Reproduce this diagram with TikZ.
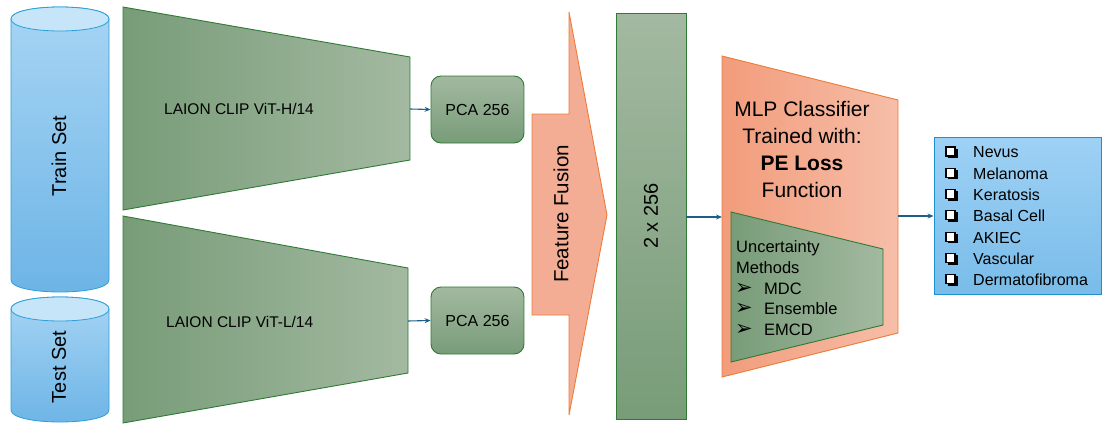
\documentclass[tikz,border=0pt]{standalone}
\usepackage{fontspec}
\setmainfont{Liberation Sans}
\newfontfamily\symf{DejaVu Sans}
\usetikzlibrary{arrows.meta}
\definecolor{cyltop}{HTML}{A8D5F4}
\definecolor{cylbot}{HTML}{6CB4E6}
\definecolor{cylcap}{HTML}{C6E5F8}
\definecolor{cylline}{HTML}{2A9FD8}
\definecolor{grnL}{HTML}{789C78}
\definecolor{grnR}{HTML}{A3B9A1}
\definecolor{grnline}{HTML}{2F7A35}
\definecolor{orL}{HTML}{F29C7B}
\definecolor{orR}{HTML}{F6BEA9}
\definecolor{orline}{HTML}{EE7C3A}
\definecolor{fus}{HTML}{F3AD94}
\definecolor{outT}{HTML}{9ED1F5}
\definecolor{outB}{HTML}{79BCE9}
\definecolor{outline}{HTML}{1E8FCF}
\definecolor{arrc}{HTML}{1D5F8C}
\tikzset{
  cyl/.style={draw=cylline, line width=0.8pt, top color=cyltop, bottom color=cylbot},
  cylcapst/.style={draw=cylline, line width=0.8pt, fill=cylcap},
  trap/.style={draw=grnline, line width=0.9pt, left color=grnL, right color=grnR},
  vgrn/.style={draw=grnline, line width=0.9pt, top color=grnR, bottom color=grnL},
  mlp/.style={draw=orline, line width=0.9pt, left color=orL, right color=orR},
  fusion/.style={draw=orline, line width=0.9pt, fill=fus},
  outbox/.style={draw=outline, line width=0.9pt, top color=outT, bottom color=outB},
  arr/.style={draw=arrc, line width=1.1pt, -{Stealth[length=6pt,width=5pt]}},
  lbl/.style={inner sep=0pt, text=black},
  chk/.style={draw=black, line width=1.1pt, fill=white},
}
\begin{document}
\begin{tikzpicture}[x=1pt,y=-1pt]
\useasboundingbox (0,0) rectangle (1103,423);

% Train cylinder
\path[cyl] (11,19) -- (11,280) .. controls (11,296) and (109,296) .. (109,280) -- (109,19) .. controls (109,3) and (11,3) .. (11,19) -- cycle;
\path[cylcapst] (11,19) .. controls (11,3) and (109,3) .. (109,19) .. controls (109,35) and (11,35) .. (11,19) -- cycle;
\node[lbl, rotate=90, font=\fontsize{20}{24}\selectfont] (train) at (59,156) {Train Set};

% Test cylinder
\path[cyl] (11,309) -- (11,410) .. controls (11,426) and (109,426) .. (109,410) -- (109,309) .. controls (109,293) and (11,293) .. (11,309) -- cycle;
\path[cylcapst] (11,309) .. controls (11,293) and (109,293) .. (109,309) .. controls (109,325) and (11,325) .. (11,309) -- cycle;
\node[lbl, rotate=90, font=\fontsize{20}{24}\selectfont] (test) at (59,367) {Test Set};

% Encoders
\path[trap] (123,7) -- (410,57) -- (410,160) -- (123,210) -- cycle;
\node[lbl, anchor=west, font=\fontsize{15.5}{18}\selectfont] (enc1) at (164,109) {LAION CLIP ViT-H/14};
\path[trap] (123,216) -- (408,268) -- (408,373) -- (123,423) -- cycle;
\node[lbl, anchor=west, font=\fontsize{15.5}{18}\selectfont] (enc2) at (166,322) {LAION CLIP ViT-L/14};
\coordinate (e1r) at (410,109);
\coordinate (e2r) at (408,321);

% PCA boxes
\node[vgrn, rounded corners=10pt, minimum width=93pt, minimum height=67pt, inner sep=0pt, font=\fontsize{16}{19}\selectfont] (pca1) at (477.5,109.5) {PCA 256};
\node[vgrn, rounded corners=10pt, minimum width=93pt, minimum height=67pt, inner sep=0pt, font=\fontsize{16}{19}\selectfont] (pca2) at (477.5,320.5) {PCA 256};
\draw[arr] (e1r) -- (pca1.west);
\draw[arr] (e2r) -- (pca2.west);

% Feature fusion
\path[fusion] (532,114) -- (569,114) -- (569,12) -- (607,215) -- (569,415) -- (569,315) -- (532,315) -- cycle;
\node[lbl, rotate=90, font=\fontsize{20.5}{24}\selectfont] (fuse) at (561,214) {Feature Fusion};

% 2x256
\node[vgrn, minimum width=70pt, minimum height=406pt, inner sep=0pt] (vec) at (651,216) {};
\node[lbl, rotate=90, font=\fontsize{20}{24}\selectfont] (vectxt) at (651,216) {2 x 256};

% MLP
\path[mlp] (722,56) -- (898,100) -- (898,333) -- (722,377) -- cycle;
\coordinate (mlpl) at (722,217);
\coordinate (mlpr) at (898,216);
\node[lbl, anchor=base, font=\fontsize{21}{25}\selectfont] (m1) at (802,116.5) {MLP Classifier};
\node[lbl, anchor=base, font=\fontsize{21}{25}\selectfont] (m2) at (802,143.5) {Trained with:};
\node[lbl, anchor=base, font=\fontsize{21}{25}\selectfont\bfseries] (m3) at (802,170.5) {PE Loss};
\node[lbl, anchor=base, font=\fontsize{21}{25}\selectfont] (m4) at (802,197.5) {Function};

% Uncertainty
\path[trap] (731,212) -- (883,249) -- (883,325) -- (731,362) -- cycle;
\node[lbl, anchor=base west, font=\fontsize{16.5}{20}\selectfont] (u1) at (736,252) {Uncertainty};
\node[lbl, anchor=base west, font=\fontsize{16.5}{20}\selectfont] (u2) at (736,273) {Methods};
\node[lbl, anchor=base west, font=\fontsize{16.5}{20}\selectfont] (u3) at (735,294) {\makebox[29pt][l]{\symf\fontsize{21}{22}\selectfont ➢}MDC};
\node[lbl, anchor=base west, font=\fontsize{16.5}{20}\selectfont] (u4) at (735,314.5) {\makebox[29pt][l]{\symf\fontsize{21}{22}\selectfont ➢}Ensemble};
\node[lbl, anchor=base west, font=\fontsize{16.5}{20}\selectfont] (u5) at (735,335) {\makebox[29pt][l]{\symf\fontsize{21}{22}\selectfont ➢}EMCD};

% Output box
\node[outbox, minimum width=167pt, minimum height=157pt, inner sep=0pt] (out) at (1017.5,215.5) {};
\foreach \t [count=\i] in {Nevus,Melanoma,Keratosis,Basal Cell,AKIEC,Vascular,Dermatofibroma}{
  \pgfmathsetmacro{\yc}{152+21.3*(\i-1)}
  \fill[black] (947.5,\yc-3.5) rectangle (957.5,\yc+6);
  \draw[chk] (946,\yc-5) rectangle (955,\yc+4);
  \node[lbl, anchor=base west, font=\fontsize{16}{19}\selectfont] (c\i) at (973,\yc+5.8) {\t};
}

% Connectors
\draw[arr] (vec.east |- mlpl) -- (mlpl);
\draw[arr] (mlpr) -- (out.west |- mlpr);
\end{tikzpicture}
\end{document}
